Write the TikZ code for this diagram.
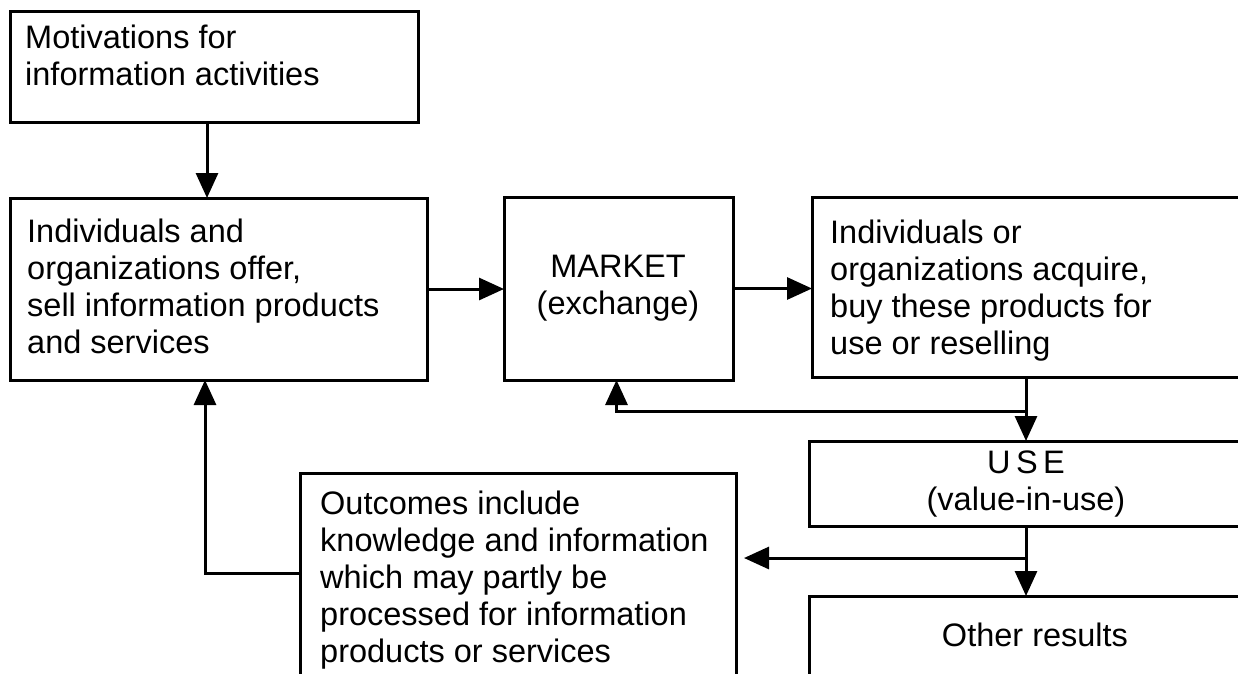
\documentclass[tikz,border=0pt]{standalone}
\usepackage{fontspec}
\setmainfont{Liberation Sans}
\usetikzlibrary{arrows.meta}
\newcommand\lftlines[1]{\vtop{\halign{##\hfil\cr#1\crcr}}}
\newcommand\ctrlines[1]{\vtop{\halign{\hfil##\hfil\cr#1\crcr}}}
\begin{document}
\begin{tikzpicture}[x=1pt,y=-1pt,
  box/.style={draw, line width=3pt, anchor=north west, inner sep=0pt, outer sep=0pt},
  lbl/.style={inner sep=0pt, font=\fontsize{32.5}{37}\selectfont},
  arr/.style={line width=3pt, -{Triangle[length=25pt,width=22pt]}},
  ln/.style={line width=3pt}]
\useasboundingbox (0,0) rectangle (1238,673);
\fill[white] (0,0) rectangle (1238,673);
\clip (0,0) rectangle (1238,673);
% boxes
\node[box, minimum width=408pt, minimum height=111pt] (mot) at (10,11) {};
\node[box, minimum width=417pt, minimum height=182pt] (offer) at (10,198) {};
\node[box, minimum width=229pt, minimum height=183pt] (market) at (504,197) {};
\node[box, minimum width=448pt, minimum height=180pt] (acquire) at (812,197) {};
\node[box, minimum width=451pt, minimum height=85pt] (use) at (809,441) {};
\node[box, minimum width=436pt, minimum height=240pt] (outcomes) at (300,473) {};
\node[box, minimum width=451pt, minimum height=120pt] (other) at (809,596) {};
% texts
\node[lbl, anchor=base west] (tmot) at (25,48) {\lftlines{Motivations for\cr information activities}};
\node[lbl, anchor=base west] (toffer) at (27,242) {\lftlines{Individuals and\cr organizations offer,\cr sell information products\cr and services}};
\node[lbl, anchor=base] (tmarket) at (618,277) {\ctrlines{MARKET\cr (exchange)}};
\node[lbl, anchor=base west] (tacq) at (830,243) {\lftlines{Individuals or\cr organizations acquire,\cr buy these products for\cr use or reselling}};
\node[lbl, anchor=base] (tuse) at (1026,473) {\ctrlines{U\,S\,E\cr (value-in-use)}};
\node[lbl, anchor=base west] (tout) at (320,514) {\lftlines{Outcomes include\cr knowledge and information\cr which may partly be\cr processed for information\cr products or services}};
\node[lbl, anchor=base] (tother) at (1035,646) {Other results};
% junctions
\coordinate (j1) at (1026,411);
\coordinate (j2) at (1026,558);
\coordinate (j3) at (205,573);
% connectors
\draw[arr] ([xshift=-7pt]mot.south) -- ([xshift=-7pt]mot.south |- offer.north);
\draw[arr] (offer.east) -- (offer.east -| market.west);
\draw[arr] (market.east) -- (market.east -| acquire.west);
\draw[ln] (acquire.south -| j1) -- (j1);
\draw[arr] (j1) -- (j1 |- use.north);
\draw[arr] (j1) -| ([xshift=-2pt]market.south);
\draw[ln] (use.south -| j2) -- (j2);
\draw[arr] (j2) -- (j2 |- other.north);
\draw[arr, shorten >=8pt] (j2) -- (j2 -| outcomes.east);
\draw[arr] (j3 -| outcomes.west) -- (j3) -- (j3 |- offer.south);
\end{tikzpicture}
\end{document}
